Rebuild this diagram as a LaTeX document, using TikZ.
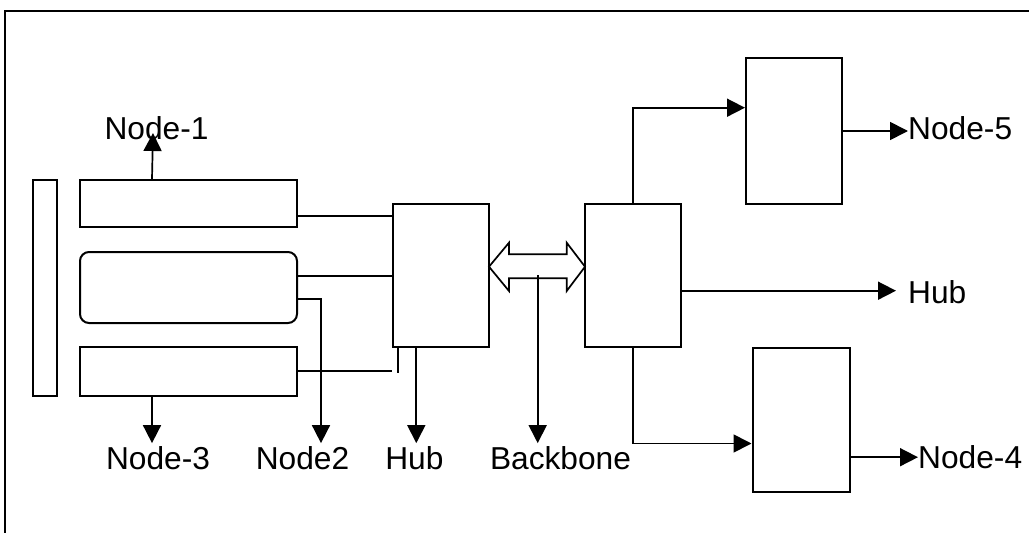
\documentclass[tikz,border=0pt]{standalone}
\usepackage{fontspec}
\setmainfont{Liberation Sans}
\usetikzlibrary{arrows.meta,calc}
\begin{document}
\begin{tikzpicture}[x=1pt,y=-1pt,
  box/.style={draw, line width=2pt, inner sep=0pt, fill=white},
  conn/.style={line width=1.7pt},
  arr/.style={conn, -{Triangle[length=18pt 0 0,width=18pt 0 0]}},
  lbl/.style={font=\fontsize{31.7}{38}\selectfont, inner xsep=0pt, inner ysep=3pt}]
\useasboundingbox (0,0) rectangle (1029,533);
% frame
\draw[line width=2.2pt] (5,540) -- (5,11) -- (1040,11);
% boxes
\node[box, minimum width=24pt, minimum height=216pt] (tall) at (45,288) {};
\node[box, minimum width=217pt, minimum height=47pt] (b1) at (188.5,203.5) {};
\node[box, rounded corners=9pt, minimum width=217pt, minimum height=71pt] (b2) at (188.5,287.5) {};
\node[box, minimum width=217pt, minimum height=49pt] (b3) at (188.5,371.5) {};
\node[box, minimum width=96pt, minimum height=143pt] (hubL) at (441,275.5) {};
\node[box, minimum width=96pt, minimum height=143pt] (hubR) at (633,275.5) {};
\node[box, minimum width=96pt, minimum height=146pt] (n5box) at (794,131) {};
\node[box, minimum width=97pt, minimum height=144pt] (n4box) at (801,420) {};
% labels
\node[lbl, anchor=base] (n1) at (156.5,139) {Node-1};
\node[lbl, anchor=base] (n3) at (158,469.3) {Node-3};
\node[lbl, anchor=base] (n2) at (302.5,469.3) {Node2};
\node[lbl, anchor=base] (hubLl) at (414.4,469.3) {Hub};
\node[lbl, anchor=base] (bbl) at (560.5,469.3) {Backbone};
\node[lbl, anchor=base west] (hubRl) at (908,303) {Hub};
\node[lbl, anchor=base west] (n5l) at (908,139) {Node-5};
\node[lbl, anchor=base west] (n4l) at (918,468.3) {Node-4};
% helper coordinates
\coordinate (t1) at (153,133);
\coordinate (p1) at ($(b1.east)+(0,12.5)$);
\coordinate (p2) at ($(b2.east)+(0,-11.8)$);
\coordinate (p2b) at ($(b2.east)+(0,11.8)$);
\coordinate (c2) at (321,299.3);
\coordinate (s1) at ($(b1.north west)+(73,0)$);
\coordinate (s3) at ($(b3.south west)+(73,0)$);
\coordinate (sh) at ($(hubL.south west)+(24.3,0)$);
\coordinate (tk) at ($(hubL.south west)+(6,0)$);
\coordinate (bb) at (537.7,275);
\coordinate (r1) at ($(hubR.east)+(0,15.2)$);
\coordinate (q5) at ($(n5box.west)+(0,-23.3)$);
\coordinate (q4) at ($(n4box.west)+(0,23.5)$);
\coordinate (o4) at ($(n4box.east)+(0,37.2)$);
\coordinate (b3e) at ($(b3.east)+(0,-0.5)$);
% left connectors
\draw[arr] (s1) -- (t1);
\draw[conn] (p1) -- (p1 -| hubL.west);
\draw[conn] (p2) -- (p2 -| hubL.west);
\draw[arr] (p2b) -- (c2) -- (c2 |- n2.north);
\draw[conn] (b3e) -- (b3e -| hubL.west);
\draw[conn] (tk) -- ++(0,25);
\draw[arr] (sh) -- (sh |- hubLl.north);
\draw[arr] (s3) -- (s3 |- n3.north);
% double arrow
\draw[line width=1.7pt, fill=white, line join=miter]
  (489,266.7) -- (509,242.7) -- (509,254.3) -- (566.7,254.3) -- (566.7,242.7)
  -- (585,266.7) -- (566.7,291) -- (566.7,278.3) -- (509,278.3) -- (509,291) -- cycle;
\draw[arr] (bb) -- (bb |- bbl.north);
% right connectors
\draw[arr] (hubR.north) |- (q5);
\draw[arr] (hubR.south) |- (q4);
\draw[arr, shorten >=12pt] (r1) -- (r1 -| hubRl.west);
\draw[arr] (n5box.east) -- (n5box.east -| n5l.west);
\draw[arr] (o4) -- (o4 -| n4l.west);
\end{tikzpicture}
\end{document}
